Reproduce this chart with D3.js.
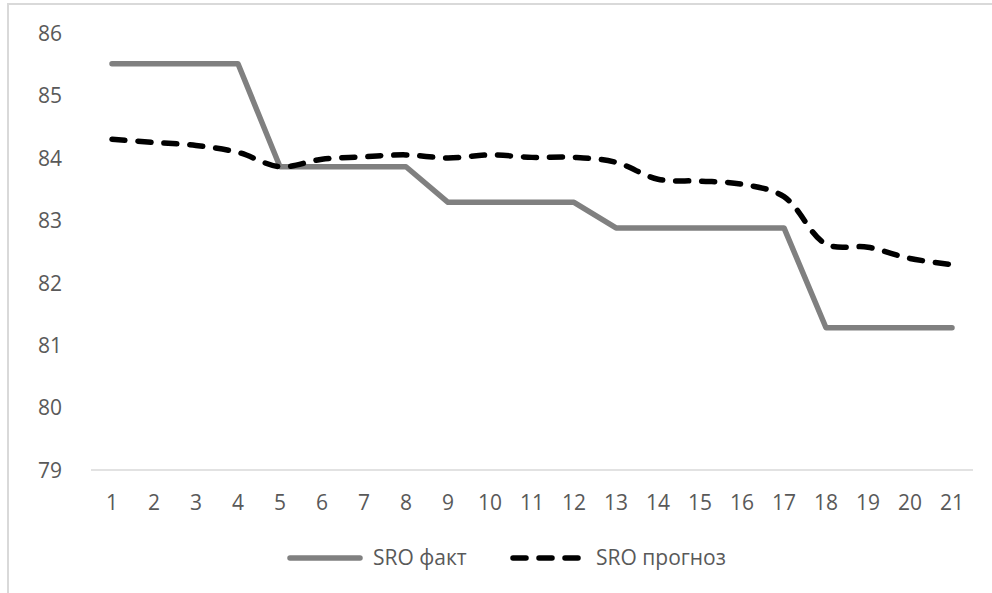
<!DOCTYPE html>
<html>
<head>
<meta charset="utf-8">
<script src="https://cdn.jsdelivr.net/npm/d3@7"></script>
<style>
  html, body { margin: 0; padding: 0; background: #fff; }
  svg { display: block; }
  text { font-family: "Open Sans", Lato, sans-serif; fill: #595959; }
</style>
</head>
<body>
<svg id="chart" width="992" height="593"></svg>
<script>
const categories = ["1","2","3","4","5","6","7","8","9","10","11","12","13","14","15","16","17","18","19","20","21"];
const sroFact = [85.51,85.51,85.51,85.51,83.86,83.86,83.86,83.86,83.29,83.29,83.29,83.29,82.88,82.88,82.88,82.88,82.88,81.28,81.28,81.28,81.28];
const sroForecast = [84.30,84.25,84.20,84.09,83.86,83.98,84.02,84.05,84.00,84.05,84.01,84.01,83.93,83.66,83.63,83.58,83.38,82.62,82.57,82.39,82.29];
const yTicks = [79,80,81,82,83,84,85,86];
const seriesNames = ["SRO факт", "SRO прогноз"];

(function () {
const svg = d3.select("#chart");
const FS = "21px";
const FF = "'Open Sans', Lato, sans-serif";

// outer frame
svg.append("rect").attr("x", 8).attr("y", 4).attr("width", 1000).attr("height", 600)
  .attr("fill", "none").attr("stroke", "#d9d9d9").attr("stroke-width", 2);

const pLeft = 91, pRight = 973, pTop = 33.2, pBottom = 470;
const x = d3.scaleBand().domain(categories).range([pLeft, pRight]);
const y = d3.scaleLinear().domain([79, 86]).range([pBottom, pTop]);

// bottom axis line
svg.append("line").attr("x1", pLeft).attr("x2", pRight).attr("y1", y(79)).attr("y2", y(79))
  .attr("stroke", "#d9d9d9").attr("stroke-width", 1.5);

// y labels
const yAxis = d3.axisLeft(y).tickValues(yTicks).tickFormat(d3.format("d")).tickSize(0).tickPadding(0);
const gy = svg.append("g").attr("transform", "translate(62,0)").call(yAxis);
gy.select(".domain").remove();
gy.selectAll("text").style("font-size", FS).attr("fill", "#595959")
  .style("font-family", FF).attr("dy", "0.35em").attr("x", 0);

// x labels
const xAxis = d3.axisBottom(x).tickSize(0).tickPadding(0);
const gx = svg.append("g").attr("transform", "translate(0,503)").call(xAxis);
gx.select(".domain").remove();
gx.selectAll("text").style("font-size", FS).attr("fill", "#595959")
  .style("font-family", FF).attr("dy", "0.35em").attr("y", 0);

const cx = (d, i) => x(categories[i]) + x.bandwidth() / 2;

const lineFact = d3.line().x(cx).y(d => y(d));
const lineFc = d3.line().x(cx).y(d => y(d)).curve(d3.curveCatmullRom.alpha(0.5));

svg.append("path").datum(sroFact).attr("d", lineFact)
  .attr("fill", "none").attr("stroke", "#808080").attr("stroke-width", 5.5)
  .attr("stroke-linejoin", "round").attr("stroke-linecap", "round");

svg.append("path").datum(sroForecast).attr("d", lineFc)
  .attr("fill", "none").attr("stroke", "#000").attr("stroke-width", 5.5)
  .attr("stroke-dasharray", "13,13").attr("stroke-linecap", "round").attr("stroke-linejoin", "round");

// legend
const ly = 558;
svg.append("line").attr("x1", 290).attr("x2", 360).attr("y1", ly).attr("y2", ly)
  .attr("stroke", "#808080").attr("stroke-width", 5.5).attr("stroke-linecap", "round");
svg.append("text").attr("x", 373).attr("y", ly).attr("dy", "0.35em")
  .style("font-size", FS).style("font-family", FF).text(seriesNames[0]);
svg.append("line").attr("x1", 513).attr("x2", 580).attr("y1", ly).attr("y2", ly)
  .attr("stroke", "#000").attr("stroke-width", 5.5).attr("stroke-linecap", "round")
  .attr("stroke-dasharray", "13,13");
svg.append("text").attr("x", 596).attr("y", ly).attr("dy", "0.35em")
  .style("font-size", FS).style("font-family", FF).text(seriesNames[1]);
})();
</script>
</body>
</html>
